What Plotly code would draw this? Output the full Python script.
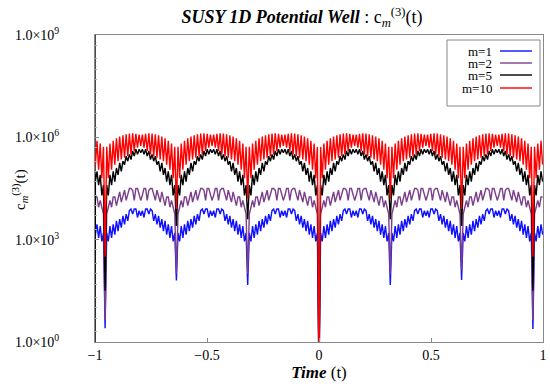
import numpy as np
import plotly.graph_objects as go

# ---------------- data (log10 of c_m^(3)(t)) ----------------
# The signal repeats with period 1/pi; one period is listed (43 samples after the dip).
period = 1 / np.pi
samples_per_period = 44

red_peaks_log = [5.72, 5.82, 5.9, 5.97, 6.02, 6.06, 6.09, 6.11, 6.12, 6.1, 6.08,
                 6.08, 6.1, 6.12, 6.11, 6.09, 6.06, 6.02, 5.97, 5.9, 5.82, 5.72]
red_troughs_log = [4.8, 5.05, 5.2, 5.3, 5.35, 5.4, 5.45, 5.5, 5.6, 5.7, 5.75,
                   5.7, 5.6, 5.5, 5.45, 5.4, 5.35, 5.3, 5.2, 5.05, 4.8]

black_period_log = [4.6, 4.3, 4.9, 4.6, 5.0, 4.7, 5.1, 4.9, 5.25, 5.0, 5.3, 5.2, 5.45,
                    5.3, 5.5, 5.35, 5.6, 5.45, 5.65, 5.5, 5.65, 5.55, 5.65, 5.5, 5.65,
                    5.45, 5.6, 5.35, 5.5, 5.3, 5.45, 5.2, 5.3, 5.0, 5.25, 4.9, 5.1,
                    4.7, 5.0, 4.6, 4.9, 4.3, 4.6]

purple_period_log = [3.75, 3.95, 4.15, 3.95, 4.25, 4.25, 4.0, 4.2, 4.4, 4.1, 4.3,
                     4.45, 4.15, 4.35, 4.5, 4.5, 4.45, 4.15, 4.5, 4.5, 4.3, 4.15, 4.3,
                     4.5, 4.5, 4.15, 4.45, 4.5, 4.5, 4.35, 4.15, 4.45, 4.3, 4.1, 4.4,
                     4.2, 4.0, 4.25, 4.25, 3.95, 4.15, 3.95, 3.75]

blue_period_log = [3.2, 2.95, 3.4, 3.05, 3.45, 3.15, 3.55, 3.25, 3.6, 3.35, 3.7, 3.45,
                   3.75, 3.55, 3.85, 3.9, 3.75, 3.9, 3.9, 3.65, 3.85, 3.7, 3.85, 3.65,
                   3.9, 3.9, 3.75, 3.9, 3.85, 3.55, 3.75, 3.45, 3.7, 3.35, 3.6, 3.25,
                   3.55, 3.15, 3.45, 3.05, 3.4, 2.95, 3.2]

# dip values at t = k/pi, k = -3..3
dip_k = [-3, -2, -1, 0, 1, 2, 3]
red_dips_log = [2.5, 3.9, 4.2, -1.0, 4.2, 3.9, 2.5]
black_dips_log = [1.5, 3.4, 3.6, -1.0, 3.6, 3.4, 1.5]
purple_dips_log = [0.64, 2.0, 2.0, -1.0, 2.0, 2.1, 0.64]
blue_dips_log = [0.4, 1.8, 1.67, -1.0, 1.67, 1.82, 0.38]

# black series starting spike at t = -1
black_start_t = [-1.0, -1.0]
black_start_log = [10.0, -1.0]

series_names = ["m=1", "m=2", "m=5", "m=10"]
series_colors = ["#1010ff", "#7b3f8c", "#000000", "#ff0000"]

x_tickvals = [-1, -0.5, 0, 0.5, 1]
x_ticktext = ["\u22121", "\u22120.5", "0", "0.5", "1"]
y_tickvals = [1e0, 1e3, 1e6, 1e9]
y_ticktext = ["1.0\u00d710<sup>0</sup>", "1.0\u00d710<sup>3</sup>",
              "1.0\u00d710<sup>6</sup>", "1.0\u00d710<sup>9</sup>"]

# ---------------- build series ----------------
red_period_log = []
for i in range(len(red_troughs_log)):
    red_period_log += [red_peaks_log[i], red_troughs_log[i]]
red_period_log.append(red_peaks_log[-1])

for lst in (red_period_log, black_period_log, purple_period_log, blue_period_log):
    assert len(lst) == samples_per_period - 1, len(lst)


def build(period_log, dips_log):
    ts, vs = [], []
    for k in range(-4, 4):
        for j in range(samples_per_period):
            t = (k + j / samples_per_period) * period
            if t < -1 - 1e-9 or t > 1 + 1e-9:
                continue
            if j == 0:
                v = dips_log[dip_k.index(k)]
            else:
                v = period_log[j - 1]
            ts.append(t)
            vs.append(v)
    return ts, vs


data = []
for period_log, dips_log in ((blue_period_log, blue_dips_log),
                             (purple_period_log, purple_dips_log),
                             (black_period_log, black_dips_log),
                             (red_period_log, red_dips_log)):
    data.append(build(period_log, dips_log))

# prepend black start spike
bt, bv = data[2]
data[2] = (black_start_t + bt, black_start_log + bv)

fig = go.Figure()
for (ts, vs), name, col in zip(data, series_names, series_colors):
    fig.add_trace(go.Scatter(x=ts, y=[10 ** v for v in vs], mode="lines",
                             name=name, line=dict(color=col, width=1.4),
                             showlegend=False))

FONT = "Liberation Serif"
L, R, T, B = 95, 7, 35, 44
W, H = 550, 386
pw, ph = W - L - R, H - T - B


def px(x):
    return (x - L) / pw


def py(y):
    return (H - B - y) / ph


fig.update_layout(
    width=W, height=H,
    margin=dict(l=L, r=R, t=T, b=B, autoexpand=False),
    paper_bgcolor="white", plot_bgcolor="white",
    font=dict(family=FONT, size=14, color="black"),
    title=dict(text="<b><i>SUSY 1D Potential Well</i></b> : c<sub><i>m</i></sub><sup>(3)</sup>(t)",
               x=302 / W, xanchor="center", y=1 - 17 / H, yanchor="middle",
               font=dict(family=FONT, size=18)),
    showlegend=False,
)
fig.update_xaxes(range=[-1, 1], tickvals=x_tickvals, ticktext=x_ticktext,
                 automargin=False,
                 showgrid=False, zeroline=False, showline=True, linecolor="#888888",
                 linewidth=1, mirror=True, ticks="inside", ticklen=4, tickcolor="#888888",
                 tickfont=dict(family=FONT, size=14),
                 title=dict(text="<b><i>Time</i></b> (t)", standoff=2,
                            font=dict(family=FONT, size=17)))
fig.update_yaxes(type="log", range=[0, 9], tickvals=y_tickvals, ticktext=y_ticktext,
                 automargin=False,
                 showgrid=False, zeroline=False, showline=True, linecolor="#888888",
                 linewidth=1, mirror=True, ticks="inside", ticklen=4, tickcolor="#888888",
                 ticklabelstandoff=32,
                 minor=dict(ticks="inside", ticklen=2, tickcolor="#aaaaaa", dtick="D2"),
                 tickfont=dict(family=FONT, size=14))

# y-axis title as rotated annotation
fig.add_annotation(xref="paper", yref="paper", x=px(20), y=py(190),
                   text="c<sub><i>m</i></sub><sup>(3)</sup>(t)", textangle=-90,
                   showarrow=False, xanchor="center", yanchor="middle",
                   font=dict(family=FONT, size=15, color="black"))

# custom legend (text left, line sample right)
fig.add_shape(type="rect", xref="paper", yref="paper",
              x0=px(447), x1=px(540), y0=py(106), y1=py(40),
              line=dict(color="#888888", width=1), fillcolor="white")
legend_rows = [51, 63, 75, 88]
for name, col, ry in zip(series_names, series_colors, legend_rows):
    fig.add_annotation(xref="paper", yref="paper", x=px(494), y=py(ry),
                       text=name, showarrow=False, xanchor="right", yanchor="middle",
                       height=12, valign="middle",
                       font=dict(family=FONT, size=13, color="black"))
    fig.add_shape(type="line", xref="paper", yref="paper",
                  x0=px(500), x1=px(532), y0=py(ry), y1=py(ry),
                  line=dict(color=col, width=1.4))

fig.write_html("out.html", config={"displayModeBar": False},
               post_script="document.body.style.margin='0';document.body.style.padding='0';")
